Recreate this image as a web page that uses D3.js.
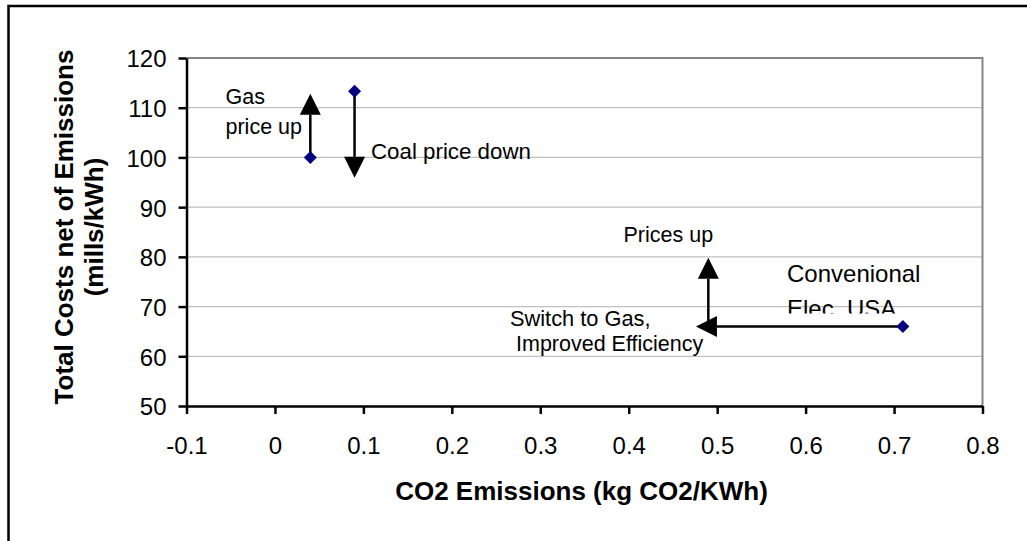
<!DOCTYPE html>
<html>
<head>
<meta charset="utf-8">
<script src="https://cdn.jsdelivr.net/npm/d3@7"></script>
<style>
  html, body { margin: 0; padding: 0; background: #fff; }
  svg { display: block; }
  text { font-family: "Liberation Sans", Arial, sans-serif; fill: #000; }
</style>
</head>
<body>
<svg id="chart" width="1027" height="541"></svg>
<script>
// ---- data ----
const pointX = [0.04, 0.09, 0.71];
const pointY = [100, 113.3, 66];

const arrowNames = ["Gas price up", "Coal price down", "Prices up", "Switch to Gas"];
const arrowX1 = [0.04, 0.09, 0.49, 0.71];
const arrowY1 = [100, 113.3, 66, 66];
const arrowX2 = [0.04, 0.09, 0.49, 0.476];
const arrowY2 = [112.8, 95.9, 79.8, 66];

const xTicks = [-0.1, 0, 0.1, 0.2, 0.3, 0.4, 0.5, 0.6, 0.7, 0.8];
const xTickLabels = ["-0.1", "0", "0.1", "0.2", "0.3", "0.4", "0.5", "0.6", "0.7", "0.8"];
const yTicks = [50, 60, 70, 80, 90, 100, 110, 120];

const xTitle = "CO2 Emissions (kg CO2/KWh)";
const yTitleLines = ["Total Costs net of Emissions", "(mills/kWh)"];

// ---- layout ----
const svg = d3.select("#chart");
const W = 1027, H = 541;
const pLeft = 186.5, pRight = 982.5, pTop = 58, pBottom = 406;

const x = d3.scaleLinear().domain([-0.1, 0.8]).range([pLeft, pRight]);
const y = d3.scaleLinear().domain([50, 120]).range([pBottom, pTop]);

// outer frame (top and left borders visible)
svg.append("path")
  .attr("d", `M8.5,${H + 5} L8.5,6 L${W + 5},6`)
  .attr("fill", "none").attr("stroke", "#000").attr("stroke-width", 2.5);

// gridlines
svg.append("g").selectAll("line")
  .data(yTicks.filter(d => d > 50 && d < 120))
  .join("line")
  .attr("x1", pLeft).attr("x2", pRight)
  .attr("y1", d => y(d)).attr("y2", d => y(d))
  .attr("stroke", "#c0c0c0").attr("stroke-width", 1.2);

// plot area border top/right
svg.append("path")
  .attr("d", `M${pLeft},${pTop} L${pRight},${pTop} L${pRight},${pBottom}`)
  .attr("fill", "none").attr("stroke", "#858585").attr("stroke-width", 2);

// y axis
const yAxis = d3.axisLeft(y).tickValues(yTicks).tickSize(8).tickSizeOuter(0).tickPadding(12);
const gy = svg.append("g").attr("transform", `translate(${pLeft},0)`).call(yAxis);
gy.select(".domain").attr("stroke", "#000").attr("stroke-width", 2.5);
gy.selectAll(".tick line").attr("stroke", "#000").attr("stroke-width", 2.5);
gy.selectAll(".tick text")
  .attr("font-size", 24).attr("dy", "0.37em")
  .style("font-family", '"Liberation Sans", Arial, sans-serif');

// x axis
const xAxis = d3.axisBottom(x).tickValues(xTicks).tickSize(8).tickSizeOuter(0)
  .tickFormat((d, i) => xTickLabels[i]);
const gx = svg.append("g").attr("transform", `translate(0,${pBottom})`).call(xAxis);
gx.select(".domain").attr("stroke", "#000").attr("stroke-width", 2.5);
gx.selectAll(".tick line").attr("stroke", "#000").attr("stroke-width", 2.5);
gx.selectAll(".tick text")
  .attr("font-size", 24).attr("y", 48).attr("dy", 0)
  .style("font-family", '"Liberation Sans", Arial, sans-serif');

// axis titles
svg.append("text")
  .attr("x", (pLeft + pRight) / 2 - 3).attr("y", 500)
  .attr("text-anchor", "middle").attr("font-size", 26).attr("font-weight", "bold")
  .text(xTitle);

const yt = svg.append("text")
  .attr("transform", "translate(0,227) rotate(-90)")
  .attr("text-anchor", "middle").attr("font-size", 26).attr("font-weight", "bold");
yt.append("tspan").attr("x", 0).attr("y", 73).text(yTitleLines[0]);
yt.append("tspan").attr("x", 0).attr("y", 103).text(yTitleLines[1]);

// arrows
const headLen = 21, headW = 21;
const ag = svg.append("g");
arrowNames.forEach((name, i) => {
  const sx = x(arrowX1[i]), sy = y(arrowY1[i]);
  const ex = x(arrowX2[i]), ey = y(arrowY2[i]);
  const dx = ex - sx, dy = ey - sy, len = Math.hypot(dx, dy);
  const ux = dx / len, uy = dy / len;
  const bx = ex - ux * headLen, by = ey - uy * headLen;
  ag.append("line")
    .attr("x1", sx).attr("y1", sy).attr("x2", bx).attr("y2", by)
    .attr("stroke", "#000").attr("stroke-width", 2.5);
  const px = -uy * headW / 2, py = ux * headW / 2;
  ag.append("path")
    .attr("d", `M${ex},${ey} L${bx + px},${by + py} L${bx - px},${by - py} Z`)
    .attr("fill", "#000");
});

// points
svg.append("g").selectAll("path")
  .data(pointX.map((d, i) => [d, pointY[i]]))
  .join("path")
  .attr("transform", d => `translate(${x(d[0])},${y(d[1])})`)
  .attr("d", "M0,-6.5 L6.5,0 L0,6.5 L-6.5,0 Z")
  .attr("fill", "#000080");

// annotations
const ann = svg.append("g");
function label(txt, lx, ly, size) {
  ann.append("text").attr("x", lx).attr("y", ly).attr("font-size", size).text(txt);
}
label("Gas", 225.5, 104, 21.5);
label("price up", 225.5, 133.5, 21.5);
label("Coal price down", 371, 158.5, 22.3);
label("Prices up", 623.5, 242, 21.5);
label("Switch to Gas,", 510, 326, 21.8);
label("Improved Efficiency", 516, 350.5, 21.5);
label("Convenional", 787, 282, 24);

svg.append("clipPath").attr("id", "elecClip")
  .append("rect").attr("x", 700).attr("y", 285).attr("width", 300).attr("height", 28.5);
ann.append("text").attr("x", 787).attr("y", 316.5).attr("font-size", 24)
  .attr("clip-path", "url(#elecClip)").text("Elec. USA");
</script>
</body>
</html>
